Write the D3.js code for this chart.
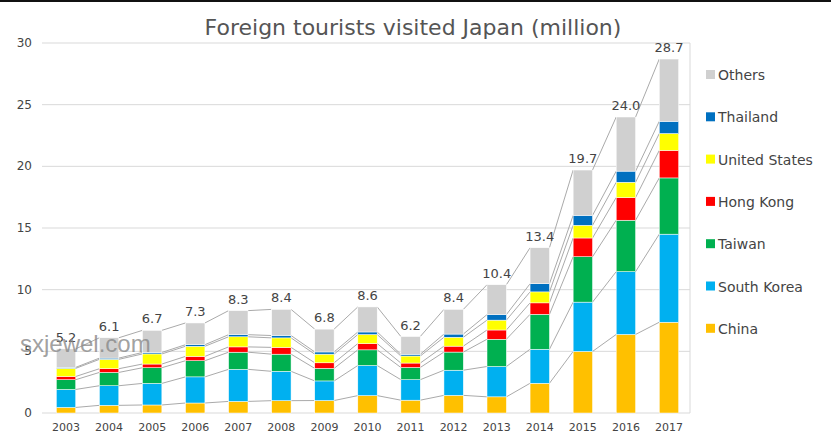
<!DOCTYPE html>
<html><head><meta charset="utf-8">
<script src="https://cdn.jsdelivr.net/npm/d3@7"></script>
<style>body{margin:0;background:#fff;font-family:"DejaVu Sans",sans-serif}</style>
</head><body><div id="chart"></div>
<script>
var years = ['2003','2004','2005','2006','2007','2008','2009','2010','2011','2012','2013','2014','2015','2016','2017'];
var totals = [5.2,6.1,6.7,7.3,8.3,8.4,6.8,8.6,6.2,8.4,10.4,13.4,19.7,24.0,28.7];
var china = [0.45,0.62,0.65,0.81,0.94,1.0,1.01,1.41,1.04,1.43,1.31,2.41,4.99,6.37,7.36];
var korea = [1.46,1.59,1.75,2.12,2.60,2.38,1.59,2.44,1.66,2.04,2.46,2.76,4.00,5.09,7.14];
var taiwan = [0.79,1.08,1.27,1.31,1.39,1.39,1.02,1.27,0.99,1.47,2.21,2.83,3.68,4.17,4.56];
var hongkong = [0.26,0.30,0.30,0.35,0.43,0.55,0.45,0.51,0.36,0.48,0.75,0.93,1.52,1.84,2.23];
var usa = [0.66,0.76,0.82,0.82,0.82,0.77,0.70,0.73,0.57,0.72,0.80,0.89,1.03,1.24,1.37];
var thailand = [0.08,0.10,0.12,0.13,0.17,0.19,0.18,0.21,0.14,0.26,0.45,0.66,0.80,0.90,0.99];
var yTicks = [0,5,10,15,20,25,30];

var seriesNames = ['China','South Korea','Taiwan','Hong Kong','United States','Thailand','Others'];
var colors = ['#FFC000','#00B0F0','#00B050','#FF0000','#FFFF00','#0070C0','#D0D0D0'];
var known = [china,korea,taiwan,hongkong,usa,thailand];

// rows for the stack
var rows = years.map(function(y,i){
  var r = {year:y}, s = 0;
  known.forEach(function(arr,k){ r[seriesNames[k]] = arr[i]; s += arr[i]; });
  r['Others'] = totals[i] - s;
  return r;
});

var W = 831, H = 437;
var svg = d3.select('#chart').append('svg').attr('width',W).attr('height',H);

var x = d3.scaleBand().domain(years).range([44.5,690.5]).paddingInner(0.55).paddingOuter(0.275);
var y = d3.scaleLinear().domain([0,30]).range([413,43]);

// gridlines
svg.append('g').selectAll('line').data(yTicks).join('line')
  .attr('x1',42).attr('x2',690).attr('y1',d=>y(d)).attr('y2',d=>y(d))
  .attr('stroke','#d9d9d9');
svg.append('line').attr('x1',690).attr('x2',690).attr('y1',y(30)).attr('y2',y(0)).attr('stroke','#d9d9d9');

svg.append('g').selectAll('text').data(yTicks).join('text')
  .attr('x',32).attr('y',d=>y(d)+4).attr('text-anchor','end')
  .attr('font-size',12).attr('fill','#444').text(d=>d);

var stack = d3.stack().keys(seriesNames)(rows);

// connector lines between bars
var bw = x.bandwidth();
var g = svg.append('g');
stack.forEach(function(layer){
  for (var i=0;i<layer.length-1;i++){
    g.append('line')
      .attr('x1',x(years[i])+bw).attr('y1',y(layer[i][1]))
      .attr('x2',x(years[i+1])).attr('y2',y(layer[i+1][1]))
      .attr('stroke','#aaa').attr('stroke-width',1);
  }
});

svg.append('g').selectAll('g').data(stack).join('g')
  .attr('fill',(d,i)=>colors[i])
  .selectAll('rect').data(d=>d).join('rect')
  .attr('x',d=>x(d.data.year)).attr('width',bw)
  .attr('y',d=>y(d[1])).attr('height',d=>y(d[0])-y(d[1]))
  .attr('stroke','#fff').attr('stroke-width',0.5);

// total labels
svg.append('g').selectAll('text').data(totals).join('text')
  .attr('x',(d,i)=>x(years[i])+bw/2).attr('y',d=>y(d)-7)
  .attr('text-anchor','middle').attr('font-size',13).attr('fill','#444')
  .text(d=>d.toFixed(1));

// year labels
svg.append('g').selectAll('text').data(years).join('text')
  .attr('x',d=>x(d)+bw/2).attr('y',431).attr('text-anchor','middle')
  .attr('font-size',11).attr('fill','#444').text(d=>d);

// title
svg.append('text').attr('x',413).attr('y',35).attr('text-anchor','middle')
  .attr('font-size',22).attr('fill','#555').text('Foreign tourists visited Japan (million)');

// legend
var legendNames = seriesNames.slice().reverse();
var legendColors = colors.slice().reverse();
var lg = svg.append('g').selectAll('g').data(legendNames).join('g')
  .attr('transform',(d,i)=>'translate(706,'+(75+i*42.3)+')');
lg.append('rect').attr('x',0).attr('y',-5).attr('width',9).attr('height',9).attr('fill',(d,i)=>legendColors[i]);
lg.append('text').attr('x',12).attr('y',5).attr('font-size',14).attr('fill','#444').text(d=>d);

// watermark
svg.append('text').attr('x',20).attr('y',352).attr('font-size',24)
  .attr('fill','#888').attr('fill-opacity',0.8).attr('font-family','Liberation Sans, sans-serif').text('sxjewel.com');

// top border line
svg.append('rect').attr('x',0).attr('y',0).attr('width',W).attr('height',2).attr('fill','#111');
</script>
</body></html>
